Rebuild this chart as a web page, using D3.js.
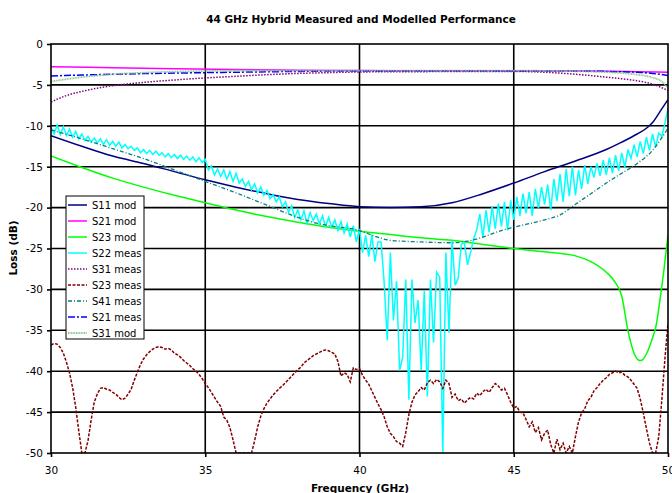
<!DOCTYPE html>
<html><head><meta charset="utf-8">
<script src="https://cdn.jsdelivr.net/npm/d3@7"></script>
<style>body{margin:0;background:#fff} svg{display:block} text{font-family:"DejaVu Sans",Verdana,sans-serif}</style>
</head><body><svg id="c" width="672" height="493"></svg>
<script>
const chartTitle = "44 GHz Hybrid Measured and Modelled Performance";
const xLabel = "Frequency (GHz)";
const yLabel = "Loss (dB)";
const xTicks = [30, 35, 40, 45, 50];
const yTicks = [0, -5, -10, -15, -20, -25, -30, -35, -40, -45, -50];

// smooth modelled / measured curves
const s11Freq = [30,31,32,33,34,35,36,37,38,39,40,41,42,43,44,45,46,47,48,48.5,49,49.3,49.5,49.75,50];
const s11Mod  = [-11.2,-12.5,-13.7,-14.6,-15.6,-16.6,-17.5,-18.3,-19.0,-19.5,-19.9,-20.0,-19.9,-19.4,-18.3,-17.0,-15.6,-14.3,-12.9,-12.0,-11.0,-10.3,-9.6,-8.2,-6.8];

const s21ModFreq = [30,32,34,36,38,40,42,44,46,48,49,50];
const s21Mod     = [-2.77,-2.9,-3.02,-3.12,-3.2,-3.25,-3.27,-3.28,-3.3,-3.33,-3.38,-3.45];

const s23ModFreq = [30,31,32,33,34,35,36,37,38,39,40,41,42,43,44,45,46,47,47.5,48,48.3,48.5,48.7,48.8,48.9,49.0,49.1,49.2,49.3,49.4,49.5,49.6,49.75,49.87,50];
const s23Mod     = [-13.7,-15.1,-16.4,-17.5,-18.5,-19.4,-20.3,-21.1,-21.8,-22.4,-22.9,-23.3,-23.7,-24.0,-24.5,-25.0,-25.4,-25.9,-26.6,-27.9,-29.2,-30.8,-35.0,-36.6,-37.8,-38.5,-38.7,-38.5,-37.9,-37.0,-35.9,-34.7,-31.0,-27.6,-23.3];

const s31MeasFreq = [30,30.5,31,31.5,32,33,34,35,36,37,38,39,40,42,45,46,47,48,48.5,49,49.5,50];
const s31Meas     = [-7.1,-6.3,-5.8,-5.4,-5.1,-4.7,-4.4,-4.15,-3.95,-3.75,-3.6,-3.5,-3.42,-3.38,-3.36,-3.45,-3.7,-4.05,-4.25,-4.5,-4.9,-5.7];

const s41Freq = [30,31,32,33,34,35,36,37,38,38.5,39,40,40.5,41,42,43,43.5,44,44.6,45,46,46.5,47,47.5,48,48.5,49,49.5,49.7,50];
const s41Meas = [-10.5,-11.6,-12.8,-14.0,-15.4,-16.8,-18.2,-19.7,-21.2,-21.8,-22.2,-22.8,-23.5,-24.0,-24.2,-24.3,-24.1,-23.6,-22.8,-22.4,-21.5,-20.9,-19.6,-18.3,-17.0,-15.8,-14.6,-13.0,-12.0,-10.3];

const s21MeasFreq = [30,31,32,33,34,35,36,37,38,39,40,42,44,46,47,48,48.5,49,49.5,50];
const s21Meas     = [-3.9,-3.8,-3.7,-3.62,-3.56,-3.5,-3.45,-3.4,-3.35,-3.31,-3.3,-3.28,-3.28,-3.3,-3.32,-3.35,-3.4,-3.45,-3.6,-3.85];

const s31ModFreq = [30,30.5,31,32,33,34,35,36,38,40,44,46,47,48,48.5,49,49.5,49.8,50];
const s31Mod     = [-4.6,-4.3,-4.05,-3.7,-3.5,-3.38,-3.3,-3.27,-3.25,-3.25,-3.25,-3.28,-3.33,-3.45,-3.55,-3.75,-4.1,-4.6,-5.4];

// noisy measured traces sampled every 0.1 GHz from 30.0 to 50.0
const noisyStart = 30, noisyStep = 0.1;
const s22Meas = [
-10.2,-11.0,-9.9,-11.1,-10.1,-11.2,-10.4,-11.4,-10.7,-11.6,
-11.0,-11.8,-11.3,-12.0,-11.5,-12.1,-11.6,-12.3,-11.7,-12.4,
-11.9,-12.5,-12.0,-12.7,-12.3,-12.8,-12.5,-13.0,-12.7,-13.3,
-12.9,-13.4,-13.0,-13.5,-13.1,-13.6,-13.3,-13.8,-13.4,-13.9,
-13.5,-14.0,-13.6,-14.1,-13.7,-14.2,-13.8,-14.4,-13.9,-14.5,
-14.1,-15.4,-14.9,-16.0,-15.3,-16.2,-15.4,-16.5,-15.6,-16.8,
-15.8,-17.0,-16.5,-17.4,-16.8,-17.8,-17.1,-18.2,-17.5,-18.5,
-17.9,-18.9,-18.4,-19.3,-18.7,-19.9,-19.3,-20.6,-19.8,-21.2,
-20.3,-21.5,-20.4,-21.9,-20.6,-21.6,-20.8,-22.0,-21.0,-22.3,
-21.2,-22.4,-21.5,-22.8,-21.7,-23.1,-22.0,-23.6,-22.2,-24.2,
-22.6,-25.5,-23.4,-26.0,-23.3,-26.6,-24.2,-24.2,-29.2,-36.2,
-25.5,-33.8,-29.0,-39.9,-38.3,-28.8,-43.5,-28.8,-34.1,-31.3,
-39.9,-30.1,-43.1,-28.8,-36.5,-27.9,-28.5,-50.0,-25.5,-35.3,
-24.0,-29.5,-28.6,-24.5,-24.3,-27.0,-25.5,-23.8,-22.7,-20.8,
-23.6,-20.3,-23.0,-19.8,-22.6,-19.5,-22.3,-19.3,-22.8,-19.1,
-21.5,-18.7,-21.0,-18.3,-20.7,-18.1,-21.0,-17.7,-20.1,-17.5,
-19.6,-17.2,-20.3,-16.5,-19.2,-15.9,-19.3,-15.3,-18.6,-15.0,
-18.5,-15.4,-17.7,-14.8,-17.1,-15.0,-16.3,-14.6,-16.1,-14.2,
-16.0,-13.9,-15.8,-13.6,-15.5,-13.3,-15.1,-12.9,-14.0,-12.3,
-13.8,-11.9,-13.4,-11.4,-13.0,-11.0,-12.6,-10.9,-11.3,-9.7,
-7.8];
const s23Meas = [
-36.8,-36.6,-36.7,-37.1,-37.8,-38.9,-40.2,-42.0,-44.4,-47.3,
-50,-50,-48.5,-46.0,-43.8,-42.8,-42.1,-42.0,-42.2,-42.3,
-42.6,-42.8,-43.2,-43.5,-43.3,-42.8,-42.2,-41.1,-40.1,-39.2,
-38.5,-38.0,-37.6,-37.3,-37.1,-37.0,-37.1,-37.3,-37.2,-37.4,
-37.8,-38.0,-38.3,-38.7,-39.0,-39.3,-39.7,-40.0,-40.4,-40.9,
-41.5,-42.0,-42.6,-43.2,-43.8,-44.3,-45.6,-46.0,-46.9,-48.4,
-50,-50,-50,-50,-50,-50,-48.5,-46.8,-45.5,-44.6,
-43.9,-43.4,-42.9,-42.5,-42.1,-41.8,-41.4,-41.0,-40.6,-40.2,
-39.8,-39.5,-39.0,-38.7,-38.4,-38.1,-37.9,-37.7,-37.5,-37.4,
-37.5,-37.7,-37.9,-38.8,-40.6,-40.2,-40.4,-41.3,-39.6,-39.8,
-39.7,-40.5,-41.1,-41.6,-42.4,-43.2,-44.0,-44.7,-45.6,-46.8,
-47.6,-48.0,-48.6,-48.8,-49.2,-47.5,-45.3,-43.8,-42.9,-42.5,
-42.0,-42.3,-41.4,-41.1,-41.5,-41.0,-41.3,-42.1,-41.1,-41.5,
-43.2,-42.8,-43.6,-43.4,-43.9,-43.5,-43.2,-43.4,-42.7,-43.0,
-42.5,-42.2,-42.6,-42.0,-41.5,-41.8,-42.3,-42.1,-42.9,-43.8,
-44.5,-44.3,-45.0,-45.1,-45.9,-46.8,-46.2,-47.5,-46.9,-48.4,
-47.6,-47.2,-49.0,-50,-48.3,-49.6,-48.8,-50,-49.2,-50,
-48.0,-46.2,-45.1,-44.6,-43.6,-43.2,-42.4,-42.0,-41.5,-41.1,
-40.8,-40.4,-40.2,-40.0,-40.2,-40.1,-40.5,-40.7,-41.1,-41.6,
-42.1,-43.4,-45.1,-47.0,-48.8,-50,-50,-48.0,-43.5,-38.5,
-34.1];

const svg = d3.select("#c");
const W = 672, H = 493;
const m = {left: 51, right: 668, top: 44, bottom: 453};
const x = d3.scaleLinear().domain([30, 50]).range([m.left, m.right]);
const y = d3.scaleLinear().domain([0, -50]).range([m.top, m.bottom]);

svg.append("rect").attr("width", W).attr("height", H).attr("fill", "#fff");

// title
svg.append("text").attr("x", 361).attr("y", 23).attr("text-anchor", "middle")
  .attr("font-size", 10.5).attr("font-weight", "bold").text(chartTitle);

// grid
const g = svg.append("g");
g.selectAll("line.h").data(yTicks.slice(1, -1)).join("line")
  .attr("x1", m.left).attr("x2", m.right).attr("y1", d => y(d)).attr("y2", d => y(d))
  .attr("stroke", "#000").attr("stroke-width", 1.6);
g.selectAll("line.v").data(xTicks.slice(1, -1)).join("line")
  .attr("y1", m.top).attr("y2", m.bottom).attr("x1", d => x(d)).attr("x2", d => x(d))
  .attr("stroke", "#000").attr("stroke-width", 1.6);

// axes
const yAxis = svg.append("g").attr("transform", `translate(${m.left},0)`)
  .call(d3.axisLeft(y).tickValues(yTicks).tickSize(4).tickPadding(4).tickFormat(d => String(d)));
const xAxis = svg.append("g").attr("transform", `translate(0,${m.bottom})`)
  .call(d3.axisBottom(x).tickValues(xTicks).tickSize(4).tickPadding(10).tickFormat(d => String(d)));
[yAxis, xAxis].forEach(a => {
  a.select(".domain").remove();
  a.selectAll("line").attr("stroke", "#000").attr("stroke-width", 1.6);
  a.selectAll("text").attr("font-size", 10.5).attr("font-family", "DejaVu Sans").attr("fill", "#000");
});

svg.append("text").attr("x", 360).attr("y", 492).attr("text-anchor", "middle")
  .attr("font-size", 10.5).attr("font-weight", "bold").text(xLabel);
svg.append("text").attr("transform", "translate(17,248) rotate(-90)").attr("text-anchor", "middle")
  .attr("font-size", 10.5).attr("font-weight", "bold").text(yLabel);

// clip
svg.append("clipPath").attr("id", "clip").append("rect")
  .attr("x", m.left).attr("y", m.top - 1).attr("width", m.right - m.left).attr("height", m.bottom - m.top + 1);

const noisyFreq = s22Meas.map((_, i) => +(noisyStart + i * noisyStep).toFixed(2));

const series = [
  {name: "S11 mod",  f: s11Freq,     v: s11Mod,  color: "#000080", dash: null, w: 1.5, curve: d3.curveMonotoneX},
  {name: "S21 mod",  f: s21ModFreq,  v: s21Mod,  color: "#ff00ff", dash: null, w: 1.5, curve: d3.curveMonotoneX},
  {name: "S23 mod",  f: s23ModFreq,  v: s23Mod,  color: "#00ff00", dash: null, w: 1.5, curve: d3.curveMonotoneX},
  {name: "S22 meas", f: noisyFreq,   v: s22Meas, color: "#00ffff", dash: null, w: 1.5, curve: d3.curveLinear},
  {name: "S31 meas", f: s31MeasFreq, v: s31Meas, color: "#800080", dash: "1.5,1.5", w: 1.5, curve: d3.curveMonotoneX},
  {name: "S23 meas", f: noisyFreq,   v: s23Meas, color: "#800000", dash: "3,1.5", w: 1.5, curve: d3.curveLinear},
  {name: "S41 meas", f: s41Freq,     v: s41Meas, color: "#008080", dash: "4,2,1,2", w: 1.3, curve: d3.curveMonotoneX},
  {name: "S21 meas", f: s21MeasFreq, v: s21Meas, color: "#0000ff", dash: "7,2,2,2", w: 1.5, curve: d3.curveMonotoneX},
  {name: "S31 mod",  f: s31ModFreq,  v: s31Mod,  color: "#8cc88c", dash: "1,0.6", w: 1.8, curve: d3.curveMonotoneX}
];

const plot = svg.append("g").attr("clip-path", "url(#clip)");
series.forEach(s => {
  const pts = s.f.map((f, i) => [f, s.v[i]]);
  const line = d3.line().x(d => x(d[0])).y(d => y(d[1])).curve(s.curve);
  plot.append("path").attr("d", line(pts)).attr("fill", "none")
    .attr("stroke", s.color).attr("stroke-width", s.w)
    .attr("stroke-dasharray", s.dash);
});

// border
svg.append("rect").attr("x", m.left).attr("y", m.top).attr("width", m.right - m.left).attr("height", m.bottom - m.top)
  .attr("fill", "none").attr("stroke", "#000").attr("stroke-width", 1.6);

// legend
const lg = svg.append("g").attr("transform", "translate(66,196)");
lg.append("rect").attr("width", 78).attr("height", 143).attr("fill", "#fff").attr("stroke", "#000").attr("stroke-width", 1);
series.forEach((s, i) => {
  const yy = 9 + i * 16;
  lg.append("line").attr("x1", 2).attr("x2", 21).attr("y1", yy).attr("y2", yy)
    .attr("stroke", s.color).attr("stroke-width", s.w).attr("stroke-dasharray", s.dash);
  lg.append("text").attr("x", 26).attr("y", yy + 3.5).attr("font-size", 10).attr("fill", "#000").text(s.name);
});
</script></body></html>
